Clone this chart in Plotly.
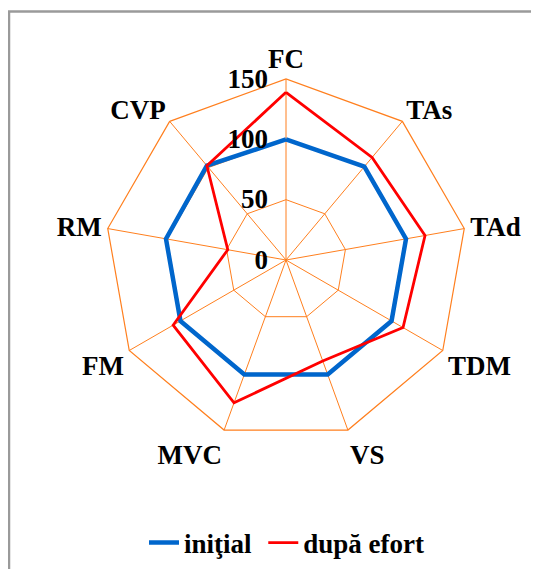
import plotly.graph_objects as go

categories = ["FC", "TAs", "TAd", "TDM", "VS", "MVC", "FM", "RM", "CVP"]
initial_vals = [100, 101, 101, 101, 101, 101, 101, 101, 102]
after_vals = [139, 111, 117, 112, 89, 126, 108, 49, 102]
radial_ticks = [0, 50, 100, 150]
series_names = ["iniţial", "după efort"]

W, H = 539, 569
OFF = 8  # page body margin
cx, cy, R = 286 - OFF, 260 - OFF, 181

def closed(v):
    return v + v[:1]

fig = go.Figure()
fig.add_trace(go.Scatterpolar(
    r=closed(initial_vals), theta=closed(categories), mode="lines",
    name="<b>" + series_names[0] + "</b>\u00a0", line=dict(color="#0066CC", width=4.5),
))
fig.add_trace(go.Scatterpolar(
    r=closed(after_vals), theta=closed(categories), mode="lines",
    name="<b>" + series_names[1] + "</b>", line=dict(color="#FF0000", width=2.8),
))

orange = "#FF7F1E"
FS = 27
tfont = dict(family="Liberation Serif", size=FS, color="black")

fig.update_layout(
    width=W, height=H,
    margin=dict(l=0, r=0, t=0, b=0),
    paper_bgcolor="white", plot_bgcolor="white",
    font=tfont,
    polar=dict(
        domain=dict(x=[(cx - R) / W, (cx + R) / W], y=[1 - (cy + R) / H, 1 - (cy - R) / H]),
        bgcolor="white",
        gridshape="linear",
        radialaxis=dict(
            range=[0, 150], tickvals=radial_ticks,
            ticktext=[f"<b>{t}</b>" for t in radial_ticks],
            angle=90, tickangle=90, side="counterclockwise", showline=False,
            gridcolor=orange, gridwidth=1.2,
            ticks="outside", ticklen=8, tickcolor="rgba(0,0,0,0)",
            tickfont=tfont,
        ),
        angularaxis=dict(
            rotation=90, direction="clockwise",
            tickvals=categories,
            ticktext=[f"<b>{c}</b>" for c in categories],
            gridcolor=orange, gridwidth=1.2,
            linecolor=orange, linewidth=1.2,
            ticks="",
            tickfont=tfont,
        ),
    ),
    legend=dict(
        orientation="h", x=(287 - OFF) / W, xanchor="center", y=1 - (543 - OFF) / H, yanchor="middle",
        font=tfont,
    ),
    shapes=[dict(
        type="rect", xref="paper", yref="paper",
        x0=(9 - OFF) / W, x1=1.3, y0=-0.3, y1=1 - (11.5 - OFF) / H,
        line=dict(color="#9A9A9A", width=2.5), fillcolor="rgba(0,0,0,0)", layer="below",
    )],
)

fig.write_html("out.html")
